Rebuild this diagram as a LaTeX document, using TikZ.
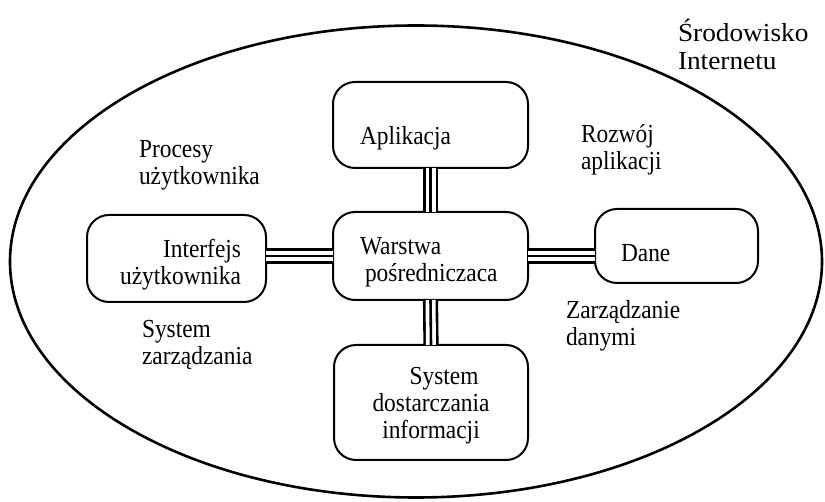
\documentclass[tikz,border=0pt]{standalone}
\usepackage{fontspec}
\setmainfont[FakeStretch=0.9]{Liberation Serif}
\newfontfamily\widefont[FakeStretch=1.05]{Liberation Serif}
\begin{document}
\begin{tikzpicture}[x=1pt,y=-1pt,
  every node/.style={inner sep=0pt, outer sep=0pt},
  txt/.style={font=\fontsize{26}{27}\selectfont, align=left},
  widetxt/.style={font=\widefont\fontsize{26}{28}\selectfont, align=left},
  box/.style={draw, line width=2pt, rounded corners=22pt, anchor=north west},
  triple/.style={double, double distance=10pt, line width=2.6pt,
                 postaction={draw, line width=2.6pt}},
  outline/.style={line width=2.6pt}]
  \useasboundingbox (0,0) rectangle (825,502);

  % surrounding environment
  \draw[outline] (416,261.5) ellipse [x radius=406pt, y radius=236pt];

  % components
  \node[box, minimum width=195pt, minimum height=86pt]  (app)  at (333,82)  {};
  \node[box, minimum width=195pt, minimum height=88pt]  (mid)  at (333,212) {};
  \node[box, minimum width=179pt, minimum height=87pt]  (ui)   at (87,215)  {};
  \node[box, minimum width=163pt, minimum height=74pt]  (data) at (595,209) {};
  \node[box, minimum width=194pt, minimum height=115pt] (info) at (334,345) {};

  % links to the middleware layer
  \draw[triple] (app.south) -- (mid.north);
  \draw[triple] (mid.south) -- (info.north);
  \draw[triple] (mid.west) -- (mid.west -| ui.east);
  \draw[triple] (mid.east) -- (mid.east -| data.west);

  % texts in the boxes
  \node[txt, anchor=west] (tapp) at (360,138) {Aplikacja};
  \node[txt, anchor=west] (tmid) at (360,262.5) {Warstwa\\\hspace*{5pt}pośredniczaca};
  \node[txt, anchor=east, align=right] (tui) at (241,265) {Interfejs\\użytkownika};
  \node[txt, anchor=west] (tdata) at (621,253) {Dane};
  \node[txt, anchor=center, align=center] (tinfo) at (431,405.5)
    {\hspace*{26pt}System\\dostarczania\\informacji};

  % surrounding labels
  \node[widetxt, anchor=west] (env) at (678,44) {Środowisko\\Internetu};
  \node[txt, anchor=west] (proc) at (139,165) {Procesy\\użytkownika};
  \node[txt, anchor=west] (dev)  at (581,150) {Rozwój\\aplikacji};
  \node[txt, anchor=west] (dm)   at (566,326) {Zarządzanie\\danymi};
  \node[txt, anchor=west] (sys)  at (142,345) {System\\zarządzania};
\end{tikzpicture}
\end{document}
